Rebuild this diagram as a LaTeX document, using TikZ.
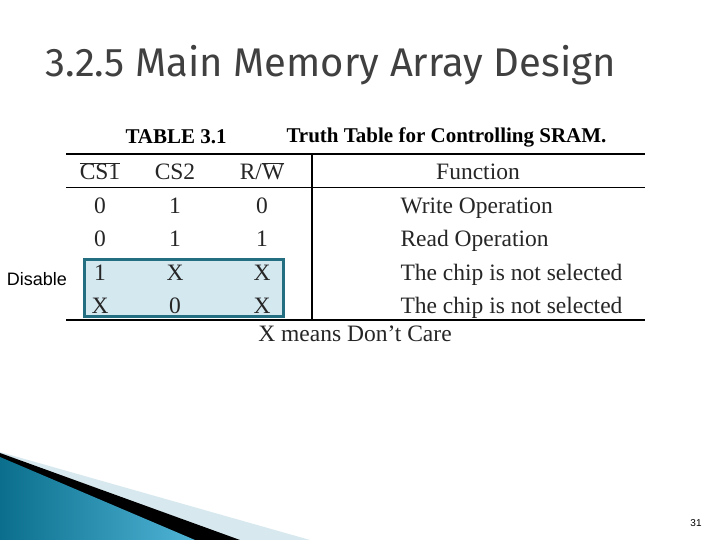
\documentclass[tikz,border=0pt]{standalone}
\usepackage{fontspec}
\setmainfont{Liberation Serif}
\newfontfamily\tsans{Fira Sans}
\newfontfamily\asans{Liberation Sans}
\definecolor{lblue}{RGB}{215,232,238}
\definecolor{tealA}{RGB}{10,110,140}
\definecolor{tealB}{RGB}{80,180,215}
\definecolor{boxfill}{RGB}{212,232,240}
\definecolor{boxline}{RGB}{35,110,128}
\begin{document}
\begin{tikzpicture}[x=1pt,y=-1pt,
  cell/.style={font=\fontsize{23.5}{26}\selectfont,text=black!85,anchor=base},
  fn/.style={cell,anchor=base west},
  rule/.style={line width=#1}]
\useasboundingbox (0,0) rectangle (720,540);
\fill[white] (0,0) rectangle (720,540);
% bottom decoration
\fill[lblue] (0,452) -- (310,540) -- (0,540) -- cycle;
\fill[black] (0,453) -- (240,540) -- (0,540) -- cycle;
\shade[left color=tealA, right color=tealB] (0,457) -- (195,540) -- (0,540) -- cycle;
% title
\node[font=\tsans\fontsize{40}{44}\selectfont,text=black!75,anchor=west] (title) at (42,65) {3.2.5 Main Memory Array Design};
% highlight box
\draw[fill=boxfill,draw=boxline,line width=3pt] (84,259) rectangle (283,316);
% caption
\node[font=\bfseries\fontsize{21}{24}\selectfont,anchor=west] (cap1) at (122,137) {TABLE 3.1};
\node[font=\bfseries\fontsize{21}{24}\selectfont,anchor=west] (cap2) at (283,137) {Truth Table for Controlling SRAM.};
% rules
\draw[rule=1.5pt] (66,154) -- (645,154);
\draw[rule=1pt] (66,188) -- (645,188);
\draw[rule=2pt] (66,320) -- (645,320);
\draw[rule=1.2pt] (312,154) -- (312,320);
% header
\node[cell] (h1) at (100,180) {$\overline{\mbox{CS1}}$};
\node[cell] (h2) at (175,180) {CS2};
\node[cell] (h3) at (262,180) {R/$\overline{\mbox{W}}$};
\node[cell] (h4) at (478,180) {Function};
% rows
\foreach \y/\a/\b/\c/\f in {214/0/1/0/Write Operation,247/0/1/1/Read Operation,280/1/X/X/The chip is not selected,313/X/0/X/The chip is not selected}{
  \node[cell] at (100,\y) {\a};
  \node[cell] at (175,\y) {\b};
  \node[cell] at (262,\y) {\c};
  \node[fn] at (397,\y) {\f};
}
\node[cell] (note) at (355,341) {X means Don’t Care};
\node[font=\asans\fontsize{18}{20}\selectfont] (dis) at (37,279) {Disable};
\node[font=\asans\fontsize{10}{12}\selectfont] (pg) at (696,523) {31};
\end{tikzpicture}
\end{document}
